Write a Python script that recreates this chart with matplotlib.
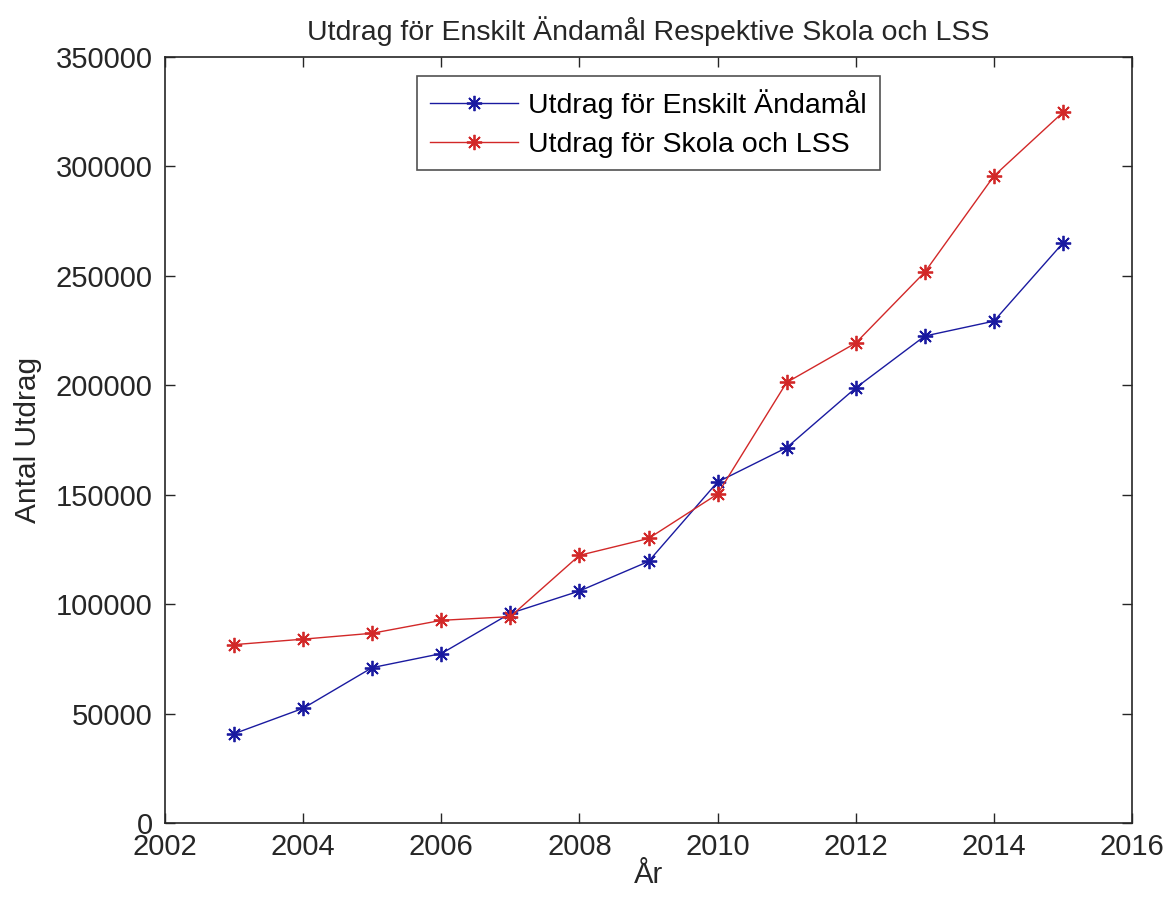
import matplotlib
matplotlib.use("Agg")
import matplotlib.pyplot as plt
from matplotlib.ticker import FixedLocator

years = [2003, 2004, 2005, 2006, 2007, 2008, 2009, 2010, 2011, 2012, 2013, 2014, 2015]
enskilt = [40800, 52400, 71000, 77400, 95800, 106000, 119500, 155800, 171500, 198800, 222500, 229300, 265000]
skola = [81500, 84000, 86700, 92600, 94300, 122300, 130000, 150300, 201300, 219300, 251700, 295600, 324700]

x_ticks = list(range(2002, 2017, 2))
y_ticks = list(range(0, 350001, 50000))

label_enskilt = "Utdrag för Enskilt Ändamål"
label_skola = "Utdrag för Skola och LSS"

plt.rcParams["font.family"] = ["Liberation Sans", "DejaVu Sans"]
txt = "#262626"

fig = plt.figure(figsize=(11.73, 8.99), dpi=100)
ax = fig.add_axes([165 / 1173, 1 - 823 / 899, 967 / 1173, 766 / 899])

# MATLAB-style '*' marker: 8-spoke asterisk
star = (8, 2, 0)
ax.plot(years, enskilt, color="#1a1aa0", marker=star, markersize=11,
        markeredgewidth=1.3, linewidth=1.0, label=label_enskilt)
ax.plot(years, skola, color="#d22828", marker=star, markersize=11,
        markeredgewidth=1.3, linewidth=1.0, label=label_skola)

ax.set_xlim(2002, 2016)
ax.set_ylim(0, 350000)
ax.xaxis.set_major_locator(FixedLocator(x_ticks))
ax.yaxis.set_major_locator(FixedLocator(y_ticks))
ax.set_xticklabels([str(t) for t in x_ticks])
ax.set_yticklabels([str(t) for t in y_ticks])
ax.tick_params(direction="in", length=7, width=1, labelsize=21, colors=txt,
               top=True, right=True)
ax.tick_params(axis="y", pad=9)
ax.tick_params(axis="x", pad=7)
for s in ax.spines.values():
    s.set_linewidth(1.2)
    s.set_color(txt)

ax.set_title("Utdrag för Enskilt Ändamål Respektive Skola och LSS",
             fontsize=20.5, color=txt, pad=12)
ax.set_xlabel("År", fontsize=21, color=txt, labelpad=0)
ax.set_ylabel("Antal Utdrag", fontsize=21.5, color=txt, labelpad=10)

leg = ax.legend(loc="upper center", bbox_to_anchor=(0.5, 0.975), fontsize=20.5,
                frameon=True, fancybox=False, edgecolor=txt,
                handlelength=3.1, handletextpad=0.35, labelspacing=0.45,
                borderpad=0.45, borderaxespad=0)
leg.get_frame().set_linewidth(1.2)

fig.savefig("out.png", dpi=100)
